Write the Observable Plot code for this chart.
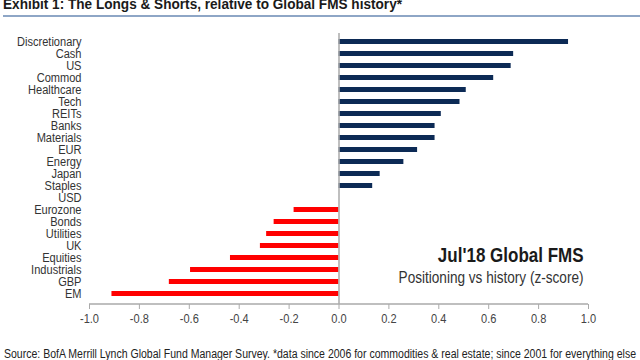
<!DOCTYPE html>
<html>
<head>
<meta charset="utf-8">
<script src="https://cdn.jsdelivr.net/npm/d3@7"></script>
<script src="https://cdn.jsdelivr.net/npm/@observablehq/plot@0.6"></script>
<style>
  html, body { margin: 0; padding: 0; background: #fff; }
  #wrap { position: relative; width: 640px; height: 360px; overflow: hidden; font-family: "Liberation Sans", Arial, sans-serif; }
  #title { position: absolute; left: 3px; top: -5px; font-size: 15px; font-weight: bold; color: #1a1a1a; white-space: nowrap; transform-origin: 0 0; }
  #rule { position: absolute; left: 3px; right: 0; top: 15px; height: 2px; background: #8ea6c6; }
  #chart { position: absolute; left: 0; top: 20px; }
  #caption { position: absolute; left: 4px; top: 347px; font-size: 12px; color: #222; white-space: nowrap; transform-origin: 0 0; }
</style>
</head>
<body>
<div id="wrap">
  <div id="title">Exhibit 1: The Longs &amp; Shorts, relative to Global FMS history*</div>
  <div id="rule"></div>
  <div id="chart"></div>
  <div id="caption">Source: BofA Merrill Lynch Global Fund Manager Survey. *data since 2006 for commodities &amp; real estate; since 2001 for everything else</div>
</div>
<script>
const categories = ["Discretionary","Cash","US","Commod","Healthcare","Tech","REITs","Banks","Materials","EUR","Energy","Japan","Staples","USD","Eurozone","Bonds","Utilities","UK","Equities","Industrials","GBP","EM"];
const values = [0.92, 0.70, 0.69, 0.62, 0.51, 0.485, 0.41, 0.385, 0.385, 0.315, 0.26, 0.165, 0.135, 0.0, -0.18, -0.26, -0.29, -0.315, -0.435, -0.595, -0.68, -0.91];
const xTicks = [-1.0, -0.8, -0.6, -0.4, -0.2, 0.0, 0.2, 0.4, 0.6, 0.8, 1.0];
const annoTitle = "Jul'18 Global FMS";
const annoSub = "Positioning vs history (z-score)";

const data = categories.map((c, i) => ({cat: c, value: values[i]}));
const font = "'Liberation Sans', Arial, sans-serif";

const n = categories.length;
const pad = 0.55;
const step = 12.43;
const y0 = 17 - step * (pad + (1 - pad) / 2);
const y1 = y0 + step * (n - pad + 2 * pad);
const H = 318, MB = 34;

const chart = Plot.plot({
  width: 640,
  height: H,
  marginLeft: 89,
  marginRight: 52,
  marginTop: 13,
  marginBottom: MB,
  style: {fontFamily: font, fontSize: "13px", color: "#444", background: "#fff"},
  x: {domain: [-1, 1], ticks: xTicks, tickFormat: d => d.toFixed(1), label: null},
  y: {domain: categories, range: [y0, y1], padding: pad, label: null},
  marks: [
    Plot.barX(data, {x: "value", y: "cat", fill: d => d.value >= 0 ? "#0c2a55" : "#ff0000"}),
    Plot.ruleX([0], {stroke: "#aaa", strokeWidth: 1.5}),
    Plot.axisX({ticks: xTicks, tickFormat: d => d.toFixed(1), tickSize: 5, stroke: "#aaa", fill: "#444", fontSize: 13.5, tickPadding: 4, label: null}),
    Plot.axisY({tickSize: 0, tickPadding: 8, fill: "#333", fontSize: 13.5, label: null}),
    Plot.text([annoTitle], {frameAnchor: "bottom-right", text: d => d, textAnchor: "end", dx: -5, dy: -43, fontSize: 20, fontWeight: "bold", fill: "#1a1a1a", className: "anno"}),
    Plot.text([annoSub], {frameAnchor: "bottom-right", text: d => d, textAnchor: "end", dx: -5, dy: -22, fontSize: 16, fill: "#333", className: "anno"})
  ]
});
document.getElementById("chart").appendChild(chart);
const svg = d3.select(chart);
const xs = chart.scale("x");
svg.append("line")
  .attr("x1", xs.apply(-1)).attr("x2", xs.apply(1))
  .attr("y1", H - MB).attr("y2", H - MB)
  .attr("stroke", "#aaa").attr("stroke-width", 1.5);

// narrow the text horizontally (emulating a condensed face)
svg.selectAll("text").each(function() {
  const isAnno = this.closest(".anno") != null;
  const s = isAnno ? 0.85 : 0.82;
  const xa = this.getAttribute("x");
  if (xa != null && isFinite(+xa)) this.setAttribute("x", +xa / s);
  const t = this.getAttribute("transform") || "";
  this.setAttribute("transform", `${t} scale(${s},1)`);
});

// fit caption & title widths to reference
const cap = document.getElementById("caption");
cap.style.transform = `scaleX(${632 / cap.getBoundingClientRect().width})`;
const ttl = document.getElementById("title");
ttl.style.transform = `scaleX(${399 / ttl.getBoundingClientRect().width})`;
</script>
</body>
</html>
